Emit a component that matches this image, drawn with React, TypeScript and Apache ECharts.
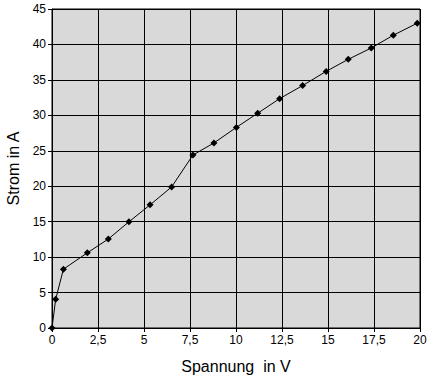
import React, { useEffect, useRef } from "react";
import * as echarts from "echarts";

const voltage = [0, 0.2, 0.62, 1.92, 3.06, 4.18, 5.33, 6.5, 7.66, 8.8, 10.02, 11.18, 12.37, 13.62, 14.9, 16.1, 17.35, 18.55, 19.85];
const current = [0, 4.05, 8.3, 10.6, 12.55, 14.98, 17.37, 19.9, 24.4, 26.1, 28.3, 30.3, 32.35, 34.2, 36.2, 37.9, 39.5, 41.3, 43.0];

export default function App() {
  const ref = useRef<HTMLDivElement>(null);
  useEffect(() => {
    const chart = echarts.init(ref.current!, null, { renderer: "svg" });
    const font = "Arial, 'Liberation Sans', sans-serif";
    chart.setOption({
      animation: false,
      backgroundColor: "#ffffff",
      grid: {
        left: 52,
        right: 11,
        top: 9,
        bottom: 53,
        containLabel: false,
        outerBoundsMode: "none",
        show: true,
        backgroundColor: "#d9d9d9",
        borderColor: "#000",
        borderWidth: 1,
      },
      xAxis: {
        type: "value",
        min: 0,
        max: 20,
        interval: 2.5,
        name: "Spannung  in V",
        nameLocation: "middle",
        nameGap: 30,
        nameTextStyle: { fontFamily: font, fontSize: 16, color: "#000" },
        axisLine: { show: true, lineStyle: { color: "#000", width: 1 } },
        axisTick: { show: true, length: 4, lineStyle: { color: "#000" } },
        axisLabel: {
          color: "#000",
          fontFamily: font,
          fontSize: 12,
          margin: 6,
          formatter: (v: number) => String(v).replace(".", ","),
        },
        splitLine: { show: true, lineStyle: { color: "#000", width: 1 } },
      },
      yAxis: {
        type: "value",
        min: 0,
        max: 45,
        interval: 5,
        name: "Strom in A",
        nameLocation: "middle",
        nameGap: 30,
        nameTextStyle: { fontFamily: font, fontSize: 16, color: "#000" },
        axisLine: { show: true, lineStyle: { color: "#000", width: 1 } },
        axisTick: { show: true, length: 4, lineStyle: { color: "#000" } },
        axisLabel: { color: "#000", fontFamily: font, fontSize: 12, margin: 6 },
        splitLine: { show: true, lineStyle: { color: "#000", width: 1 } },
      },
      series: [
        {
          type: "line",
          data: voltage.map((v, i) => [v, current[i]]),
          symbol: "diamond",
          symbolSize: 7,
          showAllSymbol: true,
          lineStyle: { color: "#000", width: 1 },
          itemStyle: { color: "#000" },
        },
      ],
    });
    return () => chart.dispose();
  }, []);
  return (
    <div
      ref={ref}
      style={{ position: "fixed", left: 0, top: 0, width: 431, height: 381 }}
    />
  );
}
